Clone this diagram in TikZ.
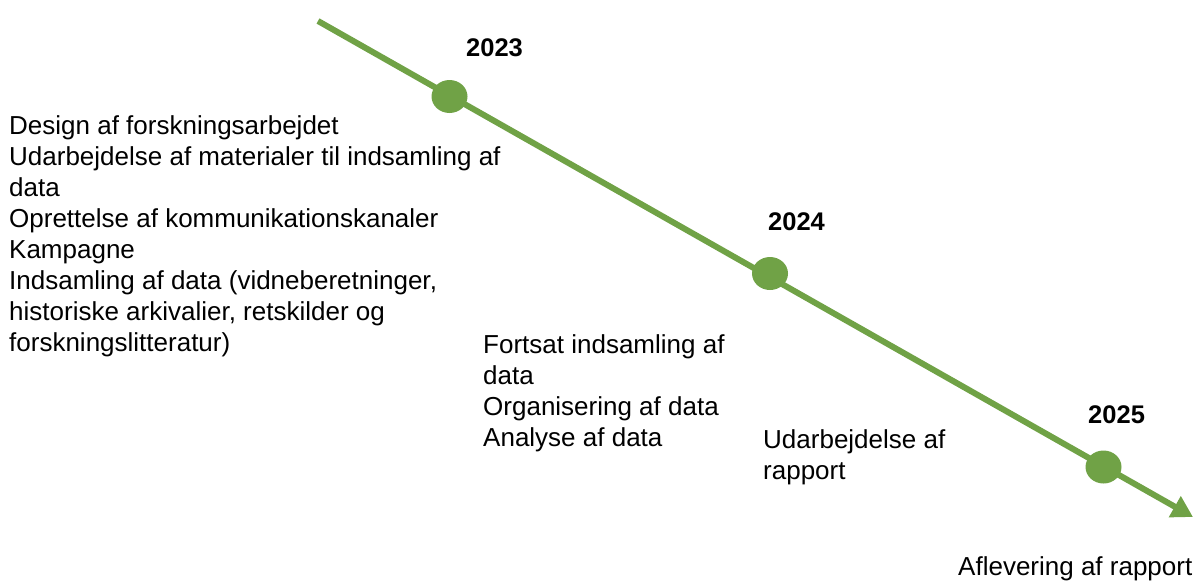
\documentclass[tikz,border=0pt]{standalone}
\usepackage{fontspec}
\setmainfont{Liberation Sans}
\usetikzlibrary{arrows.meta,shapes.geometric}
\definecolor{tlgreen}{HTML}{70A246}
\begin{document}
\begin{tikzpicture}[x=1pt,y=-1pt,
  txt/.style={inner sep=0pt, anchor=base west, text=black,
    font=\fontsize{26}{31}\selectfont},
  year/.style={inner sep=0pt, anchor=base west, text=black,
    font=\fontsize{25.5}{31}\selectfont\bfseries},
  dot/.style={ellipse, fill=tlgreen, minimum width=36pt, minimum height=33pt, inner sep=0pt},
  tline/.style={draw=tlgreen, line width=6pt, -{Triangle[length=21pt,width=23pt]}}]
\useasboundingbox (0,0) rectangle (1193,581);
\coordinate (start) at (318,21);
\coordinate (tip) at (1193,517);
\draw[tline] (start) -- (tip);
\node[dot] (d2023) at (449.5,96.5) {};
\node[dot] (d2024) at (770,273.5) {};
\node[dot] (d2025) at (1103.5,467) {};
\node[year] (y2023) at (466,56) {2023};
\node[year] (y2024) at (768,230) {2024};
\node[year] (y2025) at (1088,423) {2025};
\node[txt] (b1) at (9,134.3) {\vtop{\hbox{Design af forskningsarbejdet}\hbox{Udarbejdelse af materialer til indsamling af}\hbox{data}\hbox{Oprettelse af kommunikationskanaler}\hbox{Kampagne}\hbox{Indsamling af data (vidneberetninger,}\hbox{historiske arkivalier, retskilder og}\hbox{forskningslitteratur)}}};
\node[txt] (b2) at (483,353) {\vtop{\hbox{Fortsat indsamling af}\hbox{data}\hbox{Organisering af data}\hbox{Analyse af data}}};
\node[txt] (b3) at (763,448) {\vtop{\hbox{Udarbejdelse af}\hbox{rapport}}};
\node[txt] (b4) at (958,575) {Aflevering af rapport};
\end{tikzpicture}
\end{document}
